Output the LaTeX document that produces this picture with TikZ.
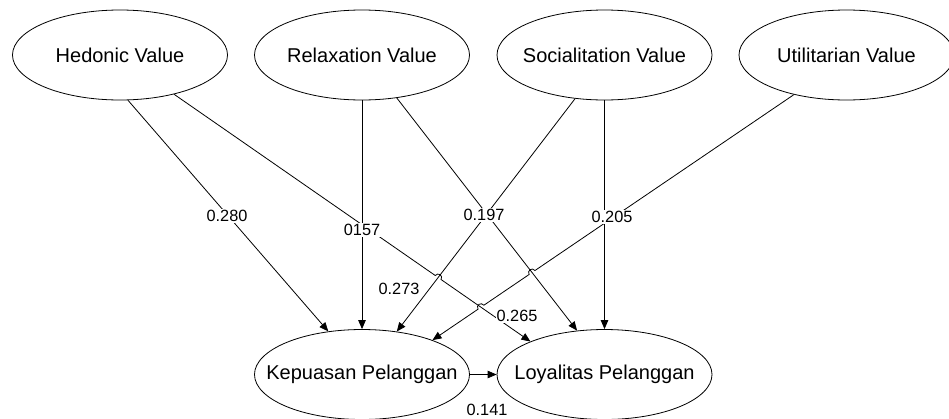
\documentclass[tikz,border=0pt]{standalone}
\usepackage{fontspec}
\setmainfont{Liberation Sans}
\usetikzlibrary{shapes.geometric,arrows.meta,calc,intersections}
\begin{document}
\begin{tikzpicture}[x=1pt,y=1pt,
  construct/.style={draw, ellipse, line width=0.8pt, minimum width=215pt,
    minimum height=90pt, inner sep=0pt, font=\fontsize{20}{24}\selectfont},
  link/.style={line width=0.8pt, -{Triangle[length=9pt,width=7.5pt]}},
  coef/.style={fill=white, inner sep=1pt, font=\fontsize{16.3}{19}\selectfont}
]
\useasboundingbox (0,0) rectangle (949,-418);

% latent constructs (text boxed to zero width so the ellipse keeps its set size)
\node[construct] (hed) at (120,-55) {\makebox[0pt]{Hedonic Value}};
\node[construct] (rel) at (362,-55) {\makebox[0pt]{Relaxation Value}};
\node[construct] (soc) at (604.5,-55) {\makebox[0pt]{Socialitation Value}};
\node[construct] (uti) at (846.5,-55) {\makebox[0pt]{Utilitarian Value}};
\node[construct] (kep) at (362,-374.5) {\makebox[0pt]{Kepuasan Pelanggan}};
\node[construct] (loy) at (604.5,-374.5) {\makebox[0pt]{Loyalitas Pelanggan}};

% paths used to locate the line jumps
\path[name path=p2] (hed.-36.7) -- (loy.156.6);
\path[name path=p4] (rel.-51.7) -- (loy.122.2);
\path[name path=p5] (soc.-124.8) -- (kep.51.8);
\path[name path=p7] (uti.-143.5) -- (kep.26.9);
\path[name intersections={of=p2 and p5, by=x25}];
\path[name intersections={of=p7 and p4, by=x74}];
\path[name intersections={of=p7 and p2, by=x72}];

% straight structural paths
\draw[link] (hed.-80.1) -- (kep.128.8);
\draw[link] (rel.-90) -- (kep.90);
\draw[link] (rel.-51.7) -- (loy.122.2);
\draw[link] (soc.-124.8) -- (kep.51.8);
\draw[link] (soc.-90) -- (loy.90);
\draw[link] (kep) -- (loy);

% Hedonic -> Loyalitas, jumping over Socialitation -> Kepuasan
\draw[link] let \p1=($(loy.156.6)-(hed.-36.7)$), \n1={atan2(\y1,\x1)} in
  (hed.-36.7) -- ($(x25)!3.5pt!(hed.-36.7)$)
  arc[start angle=\n1+180, end angle=\n1, radius=3.5pt]
  -- (loy.156.6);

% Utilitarian -> Kepuasan, jumping over two paths
\draw[link] let \p1=($(kep.26.9)-(uti.-143.5)$), \n1={atan2(\y1,\x1)} in
  (uti.-143.5) -- ($(x74)!3.5pt!(uti.-143.5)$)
  arc[start angle=\n1+180, end angle=\n1+360, radius=3.5pt]
  -- ($(x72)!3.5pt!(uti.-143.5)$)
  arc[start angle=\n1+180, end angle=\n1+360, radius=3.5pt]
  -- (kep.26.9);

% path coefficients
\node[coef] (c280) at (227,-216) {0.280};
\node[coef] (c157) at (362,-230) {0157};
\node[coef] (c197) at (484,-215) {0.197};
\node[coef] (c205) at (612,-217) {0.205};
\node[coef] (c273) at (399,-289) {0.273};
\node[coef] (c265) at (517,-316) {0.265};
\node[coef] (c141) at (487,-410) {0.141};
\end{tikzpicture}
\end{document}
